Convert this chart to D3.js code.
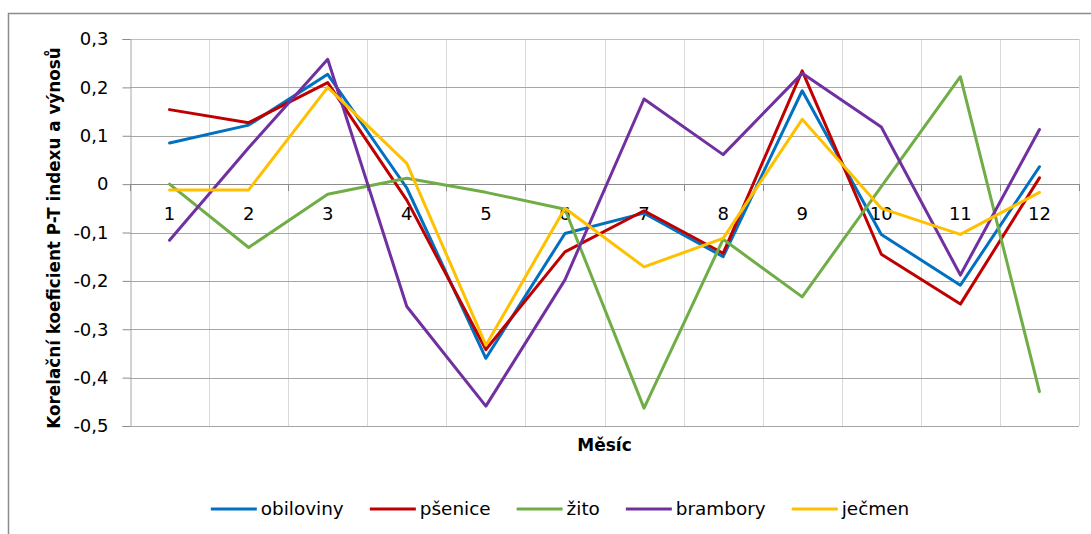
<!DOCTYPE html>
<html>
<head>
<meta charset="utf-8">
<script src="https://cdn.jsdelivr.net/npm/d3@7"></script>
<style>
  html, body { margin: 0; padding: 0; background: #fff; }
  svg { display: block; }
  text { font-family: "DejaVu Sans", sans-serif; fill: #000; }
</style>
</head>
<body>
<svg id="chart" width="1091" height="534"></svg>
<script>
// ---- data ----
const months = ["1","2","3","4","5","6","7","8","9","10","11","12"];
const yTicks = [0.3, 0.2, 0.1, 0, -0.1, -0.2, -0.3, -0.4, -0.5];
const seriesNames = ["obiloviny", "pšenice", "žito", "brambory", "ječmen"];
const obiloviny = [0.085, 0.122, 0.227, -0.008, -0.360, -0.102, -0.060, -0.150, 0.193, -0.104, -0.209, 0.036];
const psenice   = [0.154, 0.127, 0.210, -0.033, -0.342, -0.140, -0.055, -0.143, 0.234, -0.145, -0.248, 0.013];
const zito      = [0.000, -0.131, -0.021, 0.012, -0.017, -0.052, -0.463, -0.114, -0.233, -0.005, 0.222, -0.429];
const brambory  = [-0.116, 0.075, 0.258, -0.253, -0.459, -0.198, 0.176, 0.061, 0.229, 0.118, -0.188, 0.113];
const jecmen    = [-0.012, -0.012, 0.200, 0.043, -0.333, -0.050, -0.171, -0.112, 0.134, -0.050, -0.104, -0.017];
const seriesColors = ["#0070C0", "#C00000", "#70AD47", "#7030A0", "#FFC000"];

const series = [obiloviny, psenice, zito, brambory, jecmen].map((vals, i) => ({
  name: seriesNames[i], color: seriesColors[i], values: vals
}));

// ---- layout ----
const svg = d3.select("#chart");
const plot = { left: 130, right: 1079, top: 39, bottom: 426 };

const x = d3.scaleBand().domain(months).range([plot.left, plot.right]).paddingInner(0).paddingOuter(0);
const y = d3.scaleLinear().domain([-0.5, 0.3]).range([plot.bottom, plot.top]);
const xc = d => x(d) + x.bandwidth() / 2;

const loc = d3.formatLocale({ decimal: ",", thousands: " ", grouping: [3], currency: ["", ""], minus: "-" });
const fmt = v => (Math.abs(v) < 1e-9 ? "0" : loc.format(".1f")(v));

// chart frame (only top and left edges visible)
svg.append("path")
  .attr("d", "M8.5,534 L8.5,13.5 L1091,13.5")
  .attr("fill", "none").attr("stroke", "#8c8c8c").attr("stroke-width", 1.5);

// vertical gridlines at category boundaries
const bounds = months.map(m => x(m)).concat([plot.right]);
svg.append("g").selectAll("line").data(bounds.slice(1)).join("line")
  .attr("x1", d => Math.round(d) + 0.5).attr("x2", d => Math.round(d) + 0.5)
  .attr("y1", plot.top).attr("y2", plot.bottom)
  .attr("stroke", "#d9d9d9").attr("stroke-width", 1);

// horizontal gridlines
svg.append("g").selectAll("line").data(yTicks).join("line")
  .attr("x1", plot.left).attr("x2", plot.right)
  .attr("y1", d => Math.round(y(d)) + 0.5).attr("y2", d => Math.round(y(d)) + 0.5)
  .attr("stroke", d => d === 0.3 ? "#bfbfbf" : "#a6a6a6").attr("stroke-width", 1);

// y axis
const yAxis = d3.axisLeft(y).tickValues(yTicks).tickFormat(fmt).tickSize(8).tickPadding(14);
const gy = svg.append("g").attr("transform", `translate(${plot.left + 0.5},0)`).call(yAxis);
gy.select(".domain").attr("stroke", "#a6a6a6");
gy.selectAll(".tick line").attr("stroke", "#8c8c8c");
gy.selectAll(".tick text").attr("font-size", 18).attr("font-family", "DejaVu Sans").attr("fill", "#000");

// x axis at zero with tick marks at boundaries
svg.append("line")
  .attr("x1", plot.left).attr("x2", plot.right)
  .attr("y1", Math.round(y(0)) + 0.5).attr("y2", Math.round(y(0)) + 0.5)
  .attr("stroke", "#8c8c8c");
svg.append("g").selectAll("line").data(bounds).join("line")
  .attr("x1", d => Math.round(d) + 0.5).attr("x2", d => Math.round(d) + 0.5)
  .attr("y1", y(0)).attr("y2", y(0) + 7)
  .attr("stroke", "#8c8c8c");
svg.append("g").selectAll("text").data(months).join("text")
  .attr("x", d => xc(d)).attr("y", y(0) + 36)
  .attr("text-anchor", "middle").attr("font-size", 18)
  .text(d => d);

// lines
const line = d3.line().x((d, i) => xc(months[i])).y(d => y(d)).curve(d3.curveLinear);
svg.append("g").selectAll("path").data(series).join("path")
  .attr("d", s => line(s.values))
  .attr("fill", "none")
  .attr("stroke", s => s.color)
  .attr("stroke-width", 3)
  .attr("stroke-linejoin", "round")
  .attr("stroke-linecap", "round");

// axis titles
svg.append("text")
  .attr("transform", `translate(60,238) rotate(-90)`)
  .attr("text-anchor", "middle")
  .attr("font-size", 16.8).attr("font-weight", "bold")
  .text("Korelační koeficient P-T indexu a výnosů");
svg.append("text")
  .attr("x", (plot.left + plot.right) / 2).attr("y", 451)
  .attr("text-anchor", "middle")
  .attr("font-size", 17).attr("font-weight", "bold")
  .text("Měsíc");

// legend
const legend = svg.append("g");
const items = legend.selectAll("g").data(series).join("g");
items.append("line").attr("x1", 0).attr("x2", 46).attr("y1", 0).attr("y2", 0)
  .attr("stroke", d => d.color).attr("stroke-width", 3);
items.append("text").attr("x", 50).attr("y", 0).attr("dy", "0.35em")
  .attr("font-size", 18.4).text(d => d.name);
let cx = 0;
const widths = [];
items.each(function() { widths.push(this.getBBox().width); });
items.attr("transform", (d, i) => {
  const t = `translate(${cx},0)`;
  cx += widths[i] + 26;
  return t;
});
const total = cx - 26;
legend.attr("transform", `translate(${560 - total / 2},509)`);
</script>
</body>
</html>
